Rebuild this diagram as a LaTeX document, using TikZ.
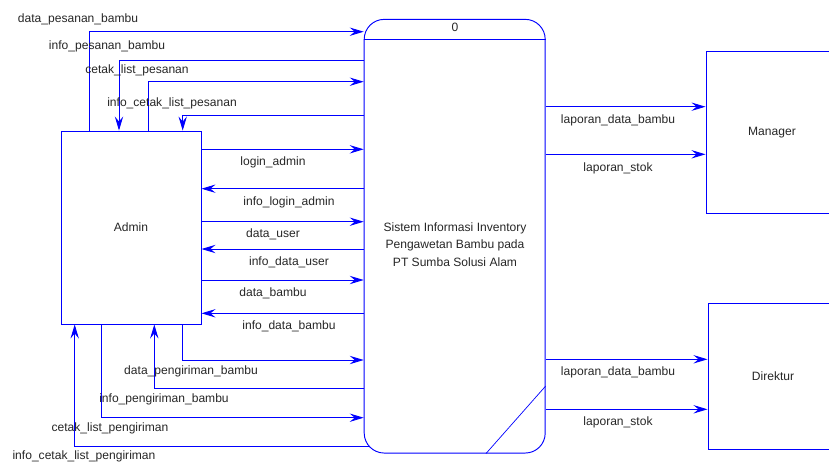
\documentclass[tikz,border=0pt]{standalone}
\usepackage{fontspec}
\setmainfont{Liberation Sans}
\usetikzlibrary{arrows.meta, positioning, calc}

\begin{document}
\begin{tikzpicture}[x=0.03cm, y=-0.03cm,
   font=\fontsize{10.3}{15}\selectfont,
   kotak/.style={draw=blue, line width=0.8pt, inner sep=0pt, text=black!85},
   alir/.style={draw=blue, line width=0.8pt, -{Stealth[length=4.2mm, width=2.5mm, inset=1.5mm]}},
   teks/.style={text=black!85, text height=7.4pt, text depth=2.2pt, inner sep=0pt}]
   \useasboundingbox (0,0) rectangle (829,464);

   % entitas dan proses
   \node[kotak, minimum width=4.2cm, minimum height=5.79cm] (admin) at (131,227.5) {Admin};
   \node[kotak, rounded corners=0.6cm, minimum width=5.43cm, minimum height=13.01cm] (proses) at (454.7,236.2) {};
   \node[kotak, minimum width=3.96cm, minimum height=4.85cm] (manager) at (772,132.5) {Manager};
   \node[kotak, minimum width=3.9cm, minimum height=4.38cm] (direktur) at (773,376) {Direktur};

   \draw[blue, line width=0.8pt] (proses.west |- 0,39.3) -- (proses.east |- 0,39.3);
   \draw[blue, line width=0.6pt] (proses.east |- 0,386) -- (proses.south -| 486,0);
   \node[teks] (nomor) at (455,28) {0};
   \node[text=black!85, align=center, inner sep=0pt] (namaproses) at (455,244.5)
      {Sistem Informasi Inventory\\Pengawetan Bambu pada\\PT Sumba Solusi Alam};

   % alir atas
   \draw[alir] (admin.north -| 89.3,0) |- (proses.west |- 0,31.7);
   \draw[alir] (proses.west |- 0,60) -| (admin.north -| 119,0);
   \draw[alir] (admin.north -| 148.3,0) |- (proses.west |- 0,81.7);
   \draw[alir] (proses.west |- 0,115) -| (admin.north -| 182.7,0);
   \node[teks] (dataPesanan) at (78,19) {data\_pesanan\_bambu};
   \node[teks] (infoPesanan) at (107,46) {info\_pesanan\_bambu};
   \node[teks] (cetakPesanan) at (137,70) {cetak\_list\_pesanan};
   \node[teks] (infoCetakPesanan) at (172,103) {info\_cetak\_list\_pesanan};

   % alir samping
   \draw[alir] (admin.east |- 0,149.3) -- (proses.west |- 0,149.3);
   \draw[alir] (proses.west |- 0,188.7) -- (admin.east |- 0,188.7);
   \draw[alir] (admin.east |- 0,221.7) -- (proses.west |- 0,221.7);
   \draw[alir] (proses.west |- 0,249) -- (admin.east |- 0,249);
   \draw[alir] (admin.east |- 0,280) -- (proses.west |- 0,280);
   \draw[alir] (proses.west |- 0,313.3) -- (admin.east |- 0,313.3);
   \node[teks] (loginAdmin) at (273,162) {login\_admin};
   \node[teks] (infoLogin) at (289,202) {info\_login\_admin};
   \node[teks] (dataUser) at (273,234) {data\_user};
   \node[teks] (infoUser) at (289,262) {info\_data\_user};
   \node[teks] (dataBambu) at (273,293) {data\_bambu};
   \node[teks] (infoBambu) at (289,326) {info\_data\_bambu};

   % alir bawah
   \draw[alir] (admin.south -| 182.3,0) |- (proses.west |- 0,360);
   \draw[alir] (proses.west |- 0,388.7) -| (admin.south -| 154.3,0);
   \draw[alir] (admin.south -| 101.3,0) |- (proses.west |- 0,417.7);
   \draw[alir] ($(proses.west |- 0,446)+(6,0)$) -| (admin.south -| 74.7,0);
   \node[teks] (dataKirim) at (191,371) {data\_pengiriman\_bambu};
   \node[teks] (infoKirim) at (164,399) {info\_pengiriman\_bambu};
   \node[teks] (cetakKirim) at (110,428) {cetak\_list\_pengiriman};
   \node[teks] (infoCetakKirim) at (84,456) {info\_cetak\_list\_pengiriman};

   % laporan
   \draw[alir] (proses.east |- 0,106.7) -- (manager.west |- 0,106.7);
   \draw[alir] (proses.east |- 0,154.3) -- (manager.west |- 0,154.3);
   \draw[alir] (proses.east |- 0,359.3) -- (direktur.west |- 0,359.3);
   \draw[alir] (proses.east |- 0,409.3) -- (direktur.west |- 0,409.3);
   \node[teks] (lapBambuM) at (618,120) {laporan\_data\_bambu};
   \node[teks] (lapStokM) at (618,168) {laporan\_stok};
   \node[teks] (lapBambuD) at (618,372) {laporan\_data\_bambu};
   \node[teks] (lapStokD) at (618,422) {laporan\_stok};
\end{tikzpicture}
\end{document}
